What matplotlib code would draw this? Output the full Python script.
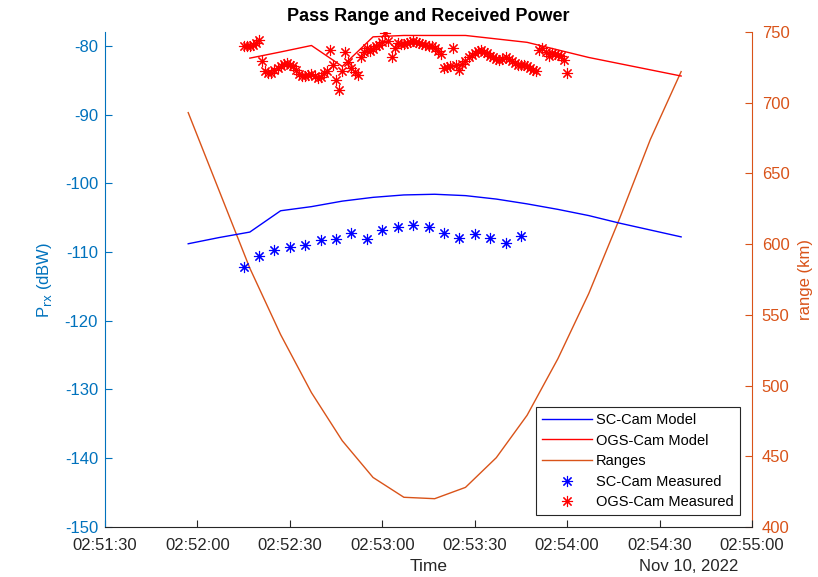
import matplotlib
matplotlib.use('Agg')
import matplotlib.pyplot as plt
import matplotlib.dates as mdates
import numpy as np
import pandas as pd

plt.rcParams['font.family'] = ['Liberation Sans', 'DejaVu Sans']
plt.rcParams['axes.unicode_minus'] = False

DAY = '2022-11-10 '

# model curves, one sample every 10 s
model_times = ['02:51:57', '02:52:07', '02:52:17', '02:52:27', '02:52:37', '02:52:47',
               '02:52:57', '02:53:07', '02:53:17', '02:53:27', '02:53:37', '02:53:47',
               '02:53:57', '02:54:07', '02:54:17', '02:54:27', '02:54:37']
sc_model = [-108.8, -107.9, -107.1, -104.0, -103.4, -102.6, -102.05, -101.7, -101.6,
            -101.8, -102.3, -103.0, -103.8, -104.7, -105.8, -106.8, -107.8]
ogs_model = [np.nan, np.nan, -81.8, -80.9, -79.96, -83.0, -78.7, -78.5, -78.5,
             -78.5, -79.0, -79.5, -80.6, -81.7, -82.6, -83.5, -84.4]
ranges = [693, 638, 583, 536, 495, 461, 435, 421, 420, 428, 449, 479, 519, 565,
          618, 674, 722]

# SC-Cam measured, every 5 s from 02:52:15
sc_start = '02:52:15'
sc_meas = [-112.2, -110.6, -109.7, -109.3, -109.0, -108.3, -108.1, -107.2, -108.1,
           -106.8, -106.4, -106.0, -106.4, -107.3, -107.9, -107.4, -107.9, -108.7,
           -107.7]

# OGS-Cam measured, every 1 s from 02:52:15
ogs_start = '02:52:15'
ogs_meas = [-80.1, -80.0, -80.1, -79.9, -79.6, -79.1, -82.2, -83.6, -83.9, -83.9,
            -83.5, -83.2, -82.9, -82.6, -82.5, -82.8, -82.9, -83.5, -84.1, -84.4,
            -84.4, -84.2, -84.1, -84.4, -84.7, -84.5, -83.9, -83.6, -80.6, -82.8,
            -85.0, -86.4, -83.6, -80.9, -82.3, -83.2, -83.8, -84.2, -81.7, -80.9,
            -80.3, -80.7, -80.4, -80.1, -79.9, -79.4, -78.1, -79.3, -81.7, -80.3,
            -79.6, -79.7, -79.7, -79.6, -79.4, -79.3, -79.4, -79.6, -79.7, -79.9,
            -80.0, -80.0, -80.3, -80.7, -81.2, -83.3, -83.1, -82.9, -80.3, -82.8,
            -83.5, -82.6, -82.2, -81.7, -81.3, -81.0, -80.7, -80.6, -80.9, -81.0,
            -81.5, -81.7, -81.9, -82.0, -81.9, -81.7, -81.9, -82.2, -82.5, -82.8,
            -82.8, -82.8, -82.9, -83.2, -83.5, -83.6, -80.6, -80.3, -80.9, -81.5,
            -81.0, -81.2, -81.3, -81.5, -82.0, -83.9]

x_ticks = ['02:51:30', '02:52:00', '02:52:30', '02:53:00', '02:53:30', '02:54:00',
           '02:54:30', '02:55:00']

LEFT_C = '#0072BD'
RIGHT_C = '#D95319'
TXT_C = '#262626'

t_model = pd.to_datetime([DAY + s for s in model_times])
t_sc = pd.date_range(DAY + sc_start, periods=len(sc_meas), freq='5s')
t_ogs = pd.date_range(DAY + ogs_start, periods=len(ogs_meas), freq='1s')
t_ticks = pd.to_datetime([DAY + s for s in x_ticks])

fig = plt.figure(figsize=(8.18, 5.77), dpi=100)
ax = fig.add_axes([0.1284, 0.0867, 0.7909, 0.8578])
ax2 = ax.twinx()

star = (8, 2, 0)
h1, = ax.plot(t_model, sc_model, color='b', lw=1.0)
h2, = ax.plot(t_model, ogs_model, color='r', lw=1.0)
h3, = ax2.plot(t_model, ranges, color=RIGHT_C, lw=1.0)
h4, = ax.plot(t_sc, sc_meas, ls='none', marker=star, color='b', ms=8, mew=0.8)
h5, = ax.plot(t_ogs, ogs_meas, ls='none', marker=star, color='r', ms=8, mew=0.8)

ax.set_zorder(ax2.get_zorder() + 1)
ax.patch.set_visible(False)

ax.set_xlim(t_ticks[0], t_ticks[-1])
ax.set_xticks(t_ticks)
ax.xaxis.set_major_formatter(mdates.DateFormatter('%H:%M:%S'))
ax.set_ylim(-150, -78)
ax.set_yticks(np.arange(-150, -79, 10))
ax2.set_ylim(400, 750)
ax2.set_yticks(np.arange(400, 751, 50))

for a in (ax, ax2):
    a.spines['top'].set_visible(False)
ax.spines['right'].set_visible(False)
ax2.spines['left'].set_visible(False)
ax2.spines['bottom'].set_visible(False)
ax.spines['left'].set_color(LEFT_C)
ax2.spines['right'].set_color(RIGHT_C)
ax.spines['bottom'].set_color(TXT_C)

ax.tick_params(axis='x', direction='in', colors=TXT_C, labelsize=12, length=5, pad=8)
ax.tick_params(axis='y', direction='in', colors=LEFT_C, labelsize=12, length=5, pad=5)
ax2.tick_params(axis='y', direction='in', colors=RIGHT_C, labelsize=12, length=5, pad=7)

ax.set_ylabel('P$_{\\mathrm{rx}}$ (dBW)', color=LEFT_C, fontsize=12, labelpad=8)
ax2.set_ylabel('range (km)', color=RIGHT_C, fontsize=12, labelpad=6)
ax.set_xlabel('Time', color=TXT_C, fontsize=12.5, labelpad=4)
ax.set_title('Pass Range and Received Power', fontsize=13, fontweight='bold', pad=8)
ax.text(0.902, -0.08, 'Nov 10, 2022', transform=ax.transAxes, ha='center',
        va='center', fontsize=12, color=TXT_C)

leg = ax.legend([h1, h2, h3, h4, h5],
                ['SC-Cam Model', 'OGS-Cam Model', 'Ranges', 'SC-Cam Measured',
                 'OGS-Cam Measured'],
                loc='lower right', bbox_to_anchor=(0.981, 0.024), fontsize=10.5,
                fancybox=False, framealpha=1, edgecolor=TXT_C, borderpad=0.4,
                labelspacing=0.45, handlelength=3.4, handletextpad=0.3,
                borderaxespad=0)
leg.get_frame().set_linewidth(0.8)

fig.savefig('out.png', dpi=100)
